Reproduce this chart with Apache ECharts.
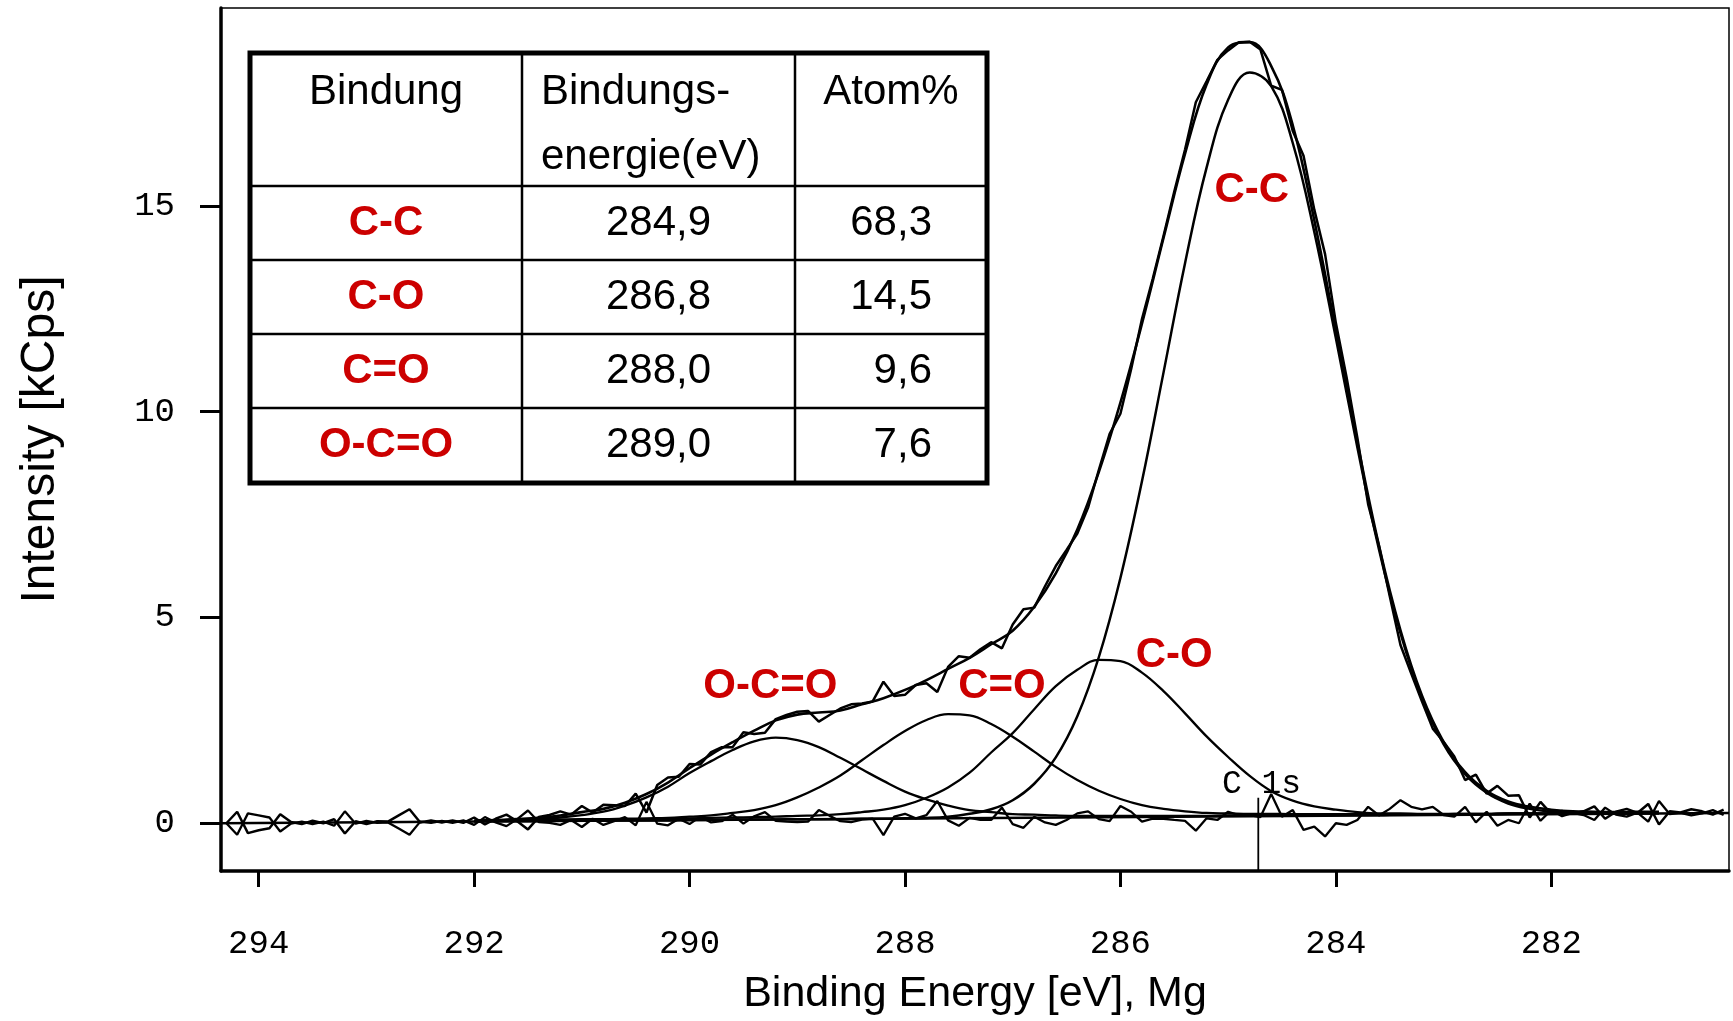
<!DOCTYPE html>
<html>
<head>
<meta charset="utf-8">
<title>XPS C 1s</title>
<script src="https://cdn.jsdelivr.net/npm/echarts@6/dist/echarts.min.js"></script>
<style>
  html, body { margin: 0; padding: 0; background: #fff; }
  #chart { width: 1733px; height: 1021px; }
</style>
</head>
<body>
<div id="chart"></div>
<script>
// measured channels, binding energy in eV
const energy = [
  294.3, 294.2, 294.1, 294.0, 293.9, 293.8, 293.7, 293.6, 293.5, 293.4,
  293.3, 293.2, 293.1, 293.0, 292.9, 292.8, 292.7, 292.6, 292.5, 292.4,
  292.3, 292.2, 292.1, 292.0, 291.9, 291.8, 291.7, 291.6, 291.5, 291.4,
  291.3, 291.2, 291.1, 291.0, 290.9, 290.8, 290.7, 290.6, 290.5, 290.4,
  290.3, 290.2, 290.1, 290.0, 289.9, 289.8, 289.7, 289.6, 289.5, 289.4,
  289.3, 289.2, 289.1, 289.0, 288.9, 288.8, 288.7, 288.6, 288.5, 288.4,
  288.3, 288.2, 288.1, 288.0, 287.9, 287.8, 287.7, 287.6, 287.5, 287.4,
  287.3, 287.2, 287.1, 287.0, 286.9, 286.8, 286.7, 286.6, 286.5, 286.4,
  286.3, 286.2, 286.1, 286.0, 285.9, 285.8, 285.7, 285.6, 285.5, 285.4,
  285.3, 285.2, 285.1, 285.0, 284.9, 284.8, 284.7, 284.6, 284.5, 284.4,
  284.3, 284.2, 284.1, 284.0, 283.9, 283.8, 283.7, 283.6, 283.5, 283.4,
  283.3, 283.2, 283.1, 283.0, 282.9, 282.8, 282.7, 282.6, 282.5, 282.4,
  282.3, 282.2, 282.1, 282.0, 281.9, 281.8, 281.7, 281.6, 281.5, 281.4,
  281.3, 281.2, 281.1, 281.0, 280.9, 280.8, 280.7, 280.6, 280.5, 280.4
];
// intensity, kCps
const counts = [
  0.00, 0.28, -0.24, -0.17, -0.12, 0.22, 0.03, -0.02, 0.06, 0.00,
  0.10, -0.25, 0.05, -0.02, 0.05, 0.04, 0.19, 0.34, 0.02, 0.07,
  0.02, 0.07, 0.01, 0.14, -0.03, 0.11, 0.21, 0.05, -0.15, 0.15,
  0.20, 0.29, 0.21, 0.42, 0.26, 0.45, 0.44, 0.42, 0.72, 0.26,
  0.93, 1.11, 1.13, 1.44, 1.43, 1.73, 1.85, 1.85, 2.21, 2.17,
  2.20, 2.53, 2.63, 2.71, 2.73, 2.47, 2.63, 2.79, 2.89, 2.91,
  2.96, 3.44, 3.09, 3.12, 3.36, 3.40, 3.19, 3.80, 4.06, 4.02,
  4.23, 4.40, 4.25, 4.83, 5.20, 5.24, 5.76, 6.25, 6.64, 7.04,
  7.67, 8.59, 9.46, 9.95, 11.04, 12.25, 13.23, 14.27, 15.35, 16.37,
  17.52, 18.03, 18.55, 18.78, 18.98, 18.99, 18.80, 17.92, 17.82, 16.82,
  16.22, 14.91, 13.83, 12.16, 10.83, 9.36, 7.75, 6.75, 5.52, 4.33,
  3.64, 2.96, 2.30, 1.98, 1.62, 1.05, 1.18, 0.72, 0.91, 0.67,
  0.68, 0.14, 0.52, 0.23, 0.30, 0.24, 0.29, 0.41, 0.11, 0.28,
  0.35, 0.25, 0.47, -0.03, 0.29, 0.26, 0.34, 0.29, 0.21, 0.33
];
// fit residual, drawn on the background level
const residual = [
  0.00, -0.28, 0.24, 0.19, 0.14, -0.20, -0.01, 0.04, -0.02, 0.04,
  -0.06, 0.29, -0.01, 0.06, 0.01, 0.02, -0.13, -0.28, 0.04, 0.01,
  0.06, 0.01, 0.07, -0.04, 0.15, 0.02, -0.07, 0.10, 0.31, 0.03,
  0.01, -0.04, 0.08, -0.09, 0.11, -0.04, 0.05, 0.15, -0.05, 0.52,
  -0.01, -0.05, 0.11, -0.02, 0.16, 0.02, 0.05, 0.21, -0.01, 0.17,
  0.27, 0.06, 0.04, 0.03, 0.04, 0.32, 0.18, 0.05, 0.03, 0.09,
  0.11, -0.29, 0.16, 0.23, 0.12, 0.20, 0.54, 0.07, -0.06, 0.13,
  0.08, 0.08, 0.38, -0.02, -0.11, 0.16, 0.02, -0.04, 0.08, 0.24,
  0.29, 0.10, 0.05, 0.42, 0.28, 0.04, 0.11, 0.11, 0.08, 0.06,
  -0.18, 0.12, 0.08, 0.28, 0.20, 0.20, 0.15, 0.71, 0.16, 0.32,
  -0.16, -0.08, -0.32, 0.00, -0.04, 0.08, 0.40, 0.19, 0.35, 0.56,
  0.40, 0.34, 0.40, 0.20, 0.16, 0.40, 0.02, 0.28, -0.06, 0.08,
  0.00, 0.48, 0.06, 0.32, 0.17, 0.25, 0.20, 0.08, 0.38, 0.21,
  0.16, 0.26, 0.04, 0.54, 0.22, 0.25, 0.19, 0.24, 0.32, 0.20
];

// fitted curves
const fitEnergy = [
  292.0, 291.8, 291.6, 291.4, 291.2, 291.0, 290.8, 290.6, 290.4, 290.2,
  290.0, 289.8, 289.6, 289.4, 289.2, 289.0, 288.8, 288.6, 288.4, 288.2,
  288.0, 287.8, 287.6, 287.4, 287.2, 287.0, 286.8, 286.6, 286.4, 286.2,
  286.0, 285.8, 285.6, 285.4, 285.2, 285.0, 284.8, 284.6, 284.4, 284.2,
  284.0, 283.8, 283.6, 283.4, 283.2, 283.0, 282.8, 282.6, 282.4, 282.2,
  282.0, 281.8, 281.6, 281.4, 281.2, 281.0
];
const envelope = [
  0.06, 0.08, 0.10, 0.13, 0.19, 0.27, 0.35, 0.50, 0.71, 0.99,
  1.34, 1.67, 1.97, 2.25, 2.50, 2.64, 2.69, 2.74, 2.89, 3.04,
  3.24, 3.48, 3.75, 4.02, 4.35, 4.68, 5.26, 6.07, 7.14, 8.54,
  10.22, 12.14, 14.22, 16.27, 17.95, 18.85, 18.98, 18.40, 16.96, 14.65,
  11.97, 9.25, 6.75, 4.69, 3.10, 1.98, 1.24, 0.79, 0.53, 0.40,
  0.33, 0.29, 0.28, 0.27, 0.28, 0.28
];
const peakOCO = [
  0.05, 0.07, 0.08, 0.10, 0.14, 0.20, 0.28, 0.43, 0.63, 0.89,
  1.22, 1.51, 1.78, 1.99, 2.08, 2.02, 1.85, 1.59, 1.31, 1.03,
  0.77, 0.58, 0.43, 0.32, 0.27, 0.22, 0.21, 0.19, 0.18, 0.18,
  0.18, 0.18, 0.18, 0.18, 0.18, 0.19, 0.19, 0.19, 0.19, 0.19,
  0.20, 0.20, 0.20, 0.21, 0.21, 0.21, 0.22, 0.22, 0.23, 0.23,
  0.23, 0.24, 0.24, 0.24, 0.25, 0.25
];
const peakCdO = [
  0.06, 0.07, 0.08, 0.08, 0.09, 0.10, 0.10, 0.11, 0.12, 0.13,
  0.16, 0.19, 0.25, 0.32, 0.44, 0.63, 0.87, 1.16, 1.53, 1.90,
  2.24, 2.51, 2.65, 2.62, 2.41, 2.10, 1.74, 1.37, 1.05, 0.79,
  0.59, 0.44, 0.35, 0.29, 0.25, 0.24, 0.23, 0.23, 0.22, 0.22,
  0.22, 0.22, 0.22, 0.22, 0.22, 0.22, 0.23, 0.23, 0.24, 0.24,
  0.24, 0.25, 0.25, 0.25, 0.26, 0.26
];
const peakCO = [
  0.06, 0.07, 0.07, 0.07, 0.08, 0.09, 0.09, 0.10, 0.10, 0.11,
  0.12, 0.13, 0.14, 0.15, 0.16, 0.18, 0.19, 0.22, 0.27, 0.33,
  0.44, 0.62, 0.87, 1.23, 1.72, 2.19, 2.77, 3.33, 3.73, 3.97,
  3.94, 3.66, 3.21, 2.67, 2.11, 1.61, 1.15, 0.78, 0.55, 0.41,
  0.33, 0.27, 0.24, 0.24, 0.23, 0.23, 0.23, 0.23, 0.24, 0.24,
  0.24, 0.24, 0.24, 0.24, 0.25, 0.25
];
const peakCC = [
  0.04, 0.05, 0.05, 0.05, 0.06, 0.06, 0.06, 0.07, 0.07, 0.07,
  0.08, 0.08, 0.09, 0.09, 0.09, 0.10, 0.10, 0.10, 0.11, 0.11,
  0.12, 0.13, 0.16, 0.23, 0.34, 0.56, 0.96, 1.60, 2.60, 4.04,
  5.96, 8.31, 10.95, 13.61, 15.93, 17.58, 18.24, 17.91, 16.53, 14.37,
  11.79, 9.13, 6.66, 4.62, 3.04, 1.92, 1.19, 0.74, 0.48, 0.35,
  0.28, 0.25, 0.24, 0.23, 0.24, 0.24
];
const bgEnergy = [294.35, 280.35];
const bgLevel = [0.0, 0.25];

// C 1s position marker
const c1sEnergy = [284.72, 284.72];
const c1sLevel = [0.62, -1.16];

// peak names and where they are written
const peakNames = ['C-C', 'C-O', 'C=O', 'O-C=O'];
const peakLabelE = [284.78, 285.50, 287.10, 289.25];
const peakLabelI = [15.38, 4.09, 3.32, 3.32];

// table
const tableHead = ['Bindung', 'Bindungs-', 'energie(eV)', 'Atom%'];
const bondEnergy = [284.9, 286.8, 288.0, 289.0];
const atomPercent = [68.3, 14.5, 9.6, 7.6];

const xTicks = [294, 292, 290, 288, 286, 284, 282];
const yTicks = [0, 5, 10, 15];

const pairs = (xs, ys) => xs.map((x, i) => [x, ys[i]]);
const deComma = v => v.toFixed(1).replace('.', ',');

const black = '#000';
const red = '#cc0000';
const sans = '"Liberation Sans", Arial, sans-serif';
const mono = '"Liberation Mono", "Courier New", monospace';

const curve = (name, xs, ys, width, smooth) => ({
  name, type: 'line', data: pairs(xs, ys),
  smooth: smooth ? 0.4 : false,
  symbol: 'none', silent: true,
  lineStyle: { color: black, width }
});

// table layout (px)
const tb = { x0: 250, x1: 987, y0: 53, y1: 483, cols: [522, 795], rows: [186, 260, 334, 408] };
const colMid = [(tb.x0 + tb.cols[0]) / 2, (tb.cols[0] + tb.cols[1]) / 2];
const txt = (text, x, y, align, font, fill) => ({
  type: 'text', z: 110,
  style: { text, x, y, align, verticalAlign: 'middle', textAlign: align, textVerticalAlign: 'middle', font, fill: fill || black }
});

const tableEls = [
  { type: 'rect', z: 100, shape: { x: tb.x0, y: tb.y0, width: tb.x1 - tb.x0, height: tb.y1 - tb.y0 },
    style: { fill: '#fff', stroke: black, lineWidth: 5 } }
];
tb.cols.forEach(x => tableEls.push({ type: 'line', z: 105, shape: { x1: x, y1: tb.y0, x2: x, y2: tb.y1 }, style: { stroke: black, lineWidth: 2.5 } }));
tb.rows.forEach(y => tableEls.push({ type: 'line', z: 105, shape: { x1: tb.x0, y1: y, x2: tb.x1, y2: y }, style: { stroke: black, lineWidth: 2.5 } }));
tableEls.push(txt(tableHead[0], colMid[0], 92, 'center', '42px ' + sans));
tableEls.push(txt(tableHead[1], 541, 92, 'left', '42px ' + sans));
tableEls.push(txt(tableHead[2], 541, 157, 'left', '42px ' + sans));
tableEls.push(txt(tableHead[3], 891, 92, 'center', '42px ' + sans));
const rowEdges = tb.rows.concat([tb.y1]);
peakNames.forEach((name, i) => {
  const yc = (rowEdges[i] + rowEdges[i + 1]) / 2;
  tableEls.push(txt(name, colMid[0], yc, 'center', 'bold 42px ' + sans, red));
  tableEls.push(txt(deComma(bondEnergy[i]), colMid[1], yc, 'center', '42px ' + sans));
  tableEls.push(txt(deComma(atomPercent[i]), 932, yc, 'right', '42px ' + sans));
});

const chart = echarts.init(document.getElementById('chart'));
const option = {
  animation: false,
  backgroundColor: '#fff',
  grid: { left: 221, right: 4, top: 8, bottom: 150, show: true, borderColor: black, borderWidth: 1.5, outerBoundsMode: 'none' },
  xAxis: {
    type: 'value', inverse: true, min: 280.35, max: 294.35,
    axisLine: { show: true, onZero: false, lineStyle: { color: black, width: 3.5 } },
    axisTick: { show: true, length: 16, customValues: xTicks, lineStyle: { color: black, width: 3 } },
    axisLabel: { customValues: xTicks, margin: 56, color: black, fontFamily: mono, fontSize: 34 },
    splitLine: { show: false },
    name: 'Binding Energy [eV], Mg', nameLocation: 'middle', nameGap: 102,
    nameTextStyle: { color: black, fontFamily: sans, fontSize: 43 }
  },
  yAxis: {
    type: 'value', min: -1.16, max: 19.81,
    axisLine: { show: true, onZero: false, lineStyle: { color: black, width: 3.5 } },
    axisTick: { show: true, length: 21, customValues: yTicks, lineStyle: { color: black, width: 3 } },
    axisLabel: { customValues: yTicks, margin: 46, color: black, fontFamily: mono, fontSize: 34 },
    splitLine: { show: false },
    name: 'Intensity [kCps]', nameLocation: 'middle', nameRotate: 90, nameGap: 156,
    nameTextStyle: { color: black, fontFamily: sans, fontSize: 48 }
  },
  graphic: tableEls,
  series: [
    curve('background', bgEnergy, bgLevel, 2.4, false),
    curve('residual', energy, residual, 2.3, false),
    curve('O-C=O', fitEnergy, peakOCO, 2.3, true),
    curve('C=O', fitEnergy, peakCdO, 2.3, true),
    curve('C-O', fitEnergy, peakCO, 2.3, true),
    curve('C-C', fitEnergy, peakCC, 2.5, true),
    curve('fit', fitEnergy, envelope, 2.6, true),
    curve('data', energy, counts, 2.5, false),
    curve('C 1s', c1sEnergy, c1sLevel, 1.8, false),
    {
      name: 'peak labels', type: 'scatter', silent: true,
      symbolSize: 1, itemStyle: { color: 'rgba(0,0,0,0)', opacity: 1 },
      data: peakNames.map((n, i) => ({ name: n, value: [peakLabelE[i], peakLabelI[i]] })),
      label: { show: true, position: 'inside', formatter: '{b}', color: red, opacity: 1, fontFamily: sans, fontWeight: 'bold', fontSize: 42 }
    },
    {
      name: 'C 1s label', type: 'scatter', silent: true,
      symbolSize: 1, itemStyle: { color: 'rgba(0,0,0,0)', opacity: 1 },
      data: [{ name: 'C 1s', value: [284.69, 0.95] }],
      label: { show: true, position: 'inside', formatter: '{b}', color: black, opacity: 1, fontFamily: mono, fontSize: 33 }
    }
  ]
};
chart.setOption(option);
</script>
</body>
</html>
